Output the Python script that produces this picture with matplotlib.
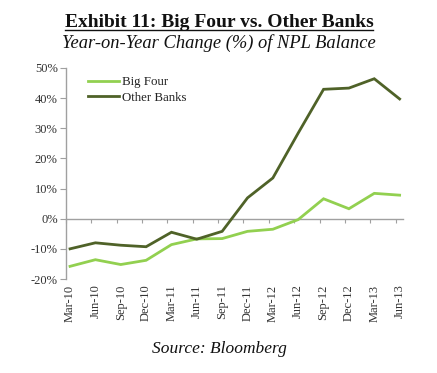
import matplotlib
matplotlib.use("Agg")
import matplotlib.pyplot as plt
import numpy as np

quarters = ["Mar-10", "Jun-10", "Sep-10", "Dec-10", "Mar-11", "Jun-11", "Sep-11",
            "Dec-11", "Mar-12", "Jun-12", "Sep-12", "Dec-12", "Mar-13", "Jun-13"]
big_four = [-15.8, -13.6, -15.2, -13.8, -8.6, -6.7, -6.6, -4.2, -3.5, -0.3, 6.6, 3.3, 8.4, 7.8]
other_banks = [-10.0, -8.0, -8.8, -9.3, -4.5, -6.8, -4.2, 6.9, 13.5, 28.4, 42.9, 43.3, 46.4, 39.7]
y_ticks = [-20, -10, 0, 10, 20, 30, 40, 50]

serif = ["Liberation Serif", "DejaVu Serif"]
plt.rcParams['font.family'] = serif

fig = plt.figure(figsize=(4.37, 3.73), dpi=100)
ax = fig.add_axes([0.151, 0.252, 0.771, 0.566])

x = np.arange(len(quarters))
ax.plot(x, big_four, color="#92D050", lw=2.0, label="Big Four", solid_joinstyle="miter")
ax.plot(x, other_banks, color="#4F6228", lw=2.0, label="Other Banks", solid_joinstyle="miter")

ax.set_xlim(-0.16, 13.13)
ax.set_ylim(-20, 50)
ax.set_yticks(y_ticks)
ax.set_yticklabels([f"{v}%" for v in y_ticks], fontsize=9, color="#333333")
ax.tick_params(axis='y', direction='out', length=4, color="#A0A0A0", pad=2)

ax.set_xticks(x)
ax.set_xticklabels(quarters, rotation=90, fontsize=9, color="#333333")
ax.tick_params(axis='x', length=0, pad=4)

for s in ["top", "right", "bottom"]:
    ax.spines[s].set_visible(False)
ax.spines["left"].set_color("#A0A0A0")
ax.spines["left"].set_linewidth(1.0)

sec = ax.secondary_xaxis(20 / 70)
sec.set_xticks(x - 0.16)
sec.set_xticklabels([])
sec.tick_params(direction='out', length=3, color="#A0A0A0")
sec.spines["bottom"].set_color("#A0A0A0")
sec.spines["bottom"].set_linewidth(1.0)

leg = ax.legend(loc="upper left", bbox_to_anchor=(0.05, 0.985), frameon=False,
                fontsize=9.3, handlelength=2.4, handletextpad=0.2, labelspacing=0.25,
                borderaxespad=0)
for t in leg.get_texts():
    t.set_color("#222222")

fig.text(0.5015, 0.9276, "Exhibit 11: Big Four vs. Other Banks", ha="center", va="baseline",
         fontsize=14, fontweight="bold", color="#111111")
fig.add_artist(plt.Line2D([0.149, 0.854], [0.920, 0.920], color="#111111", lw=1.0))
fig.text(0.5, 0.871, "Year-on-Year Change (%) of NPL Balance", ha="center", va="baseline",
         fontsize=13.3, fontstyle="italic", color="#111111")
fig.text(0.503, 0.0536, "Source: Bloomberg", ha="center", va="baseline",
         fontsize=12.5, fontstyle="italic", color="#111111")

fig.savefig("out.png", dpi=100)
